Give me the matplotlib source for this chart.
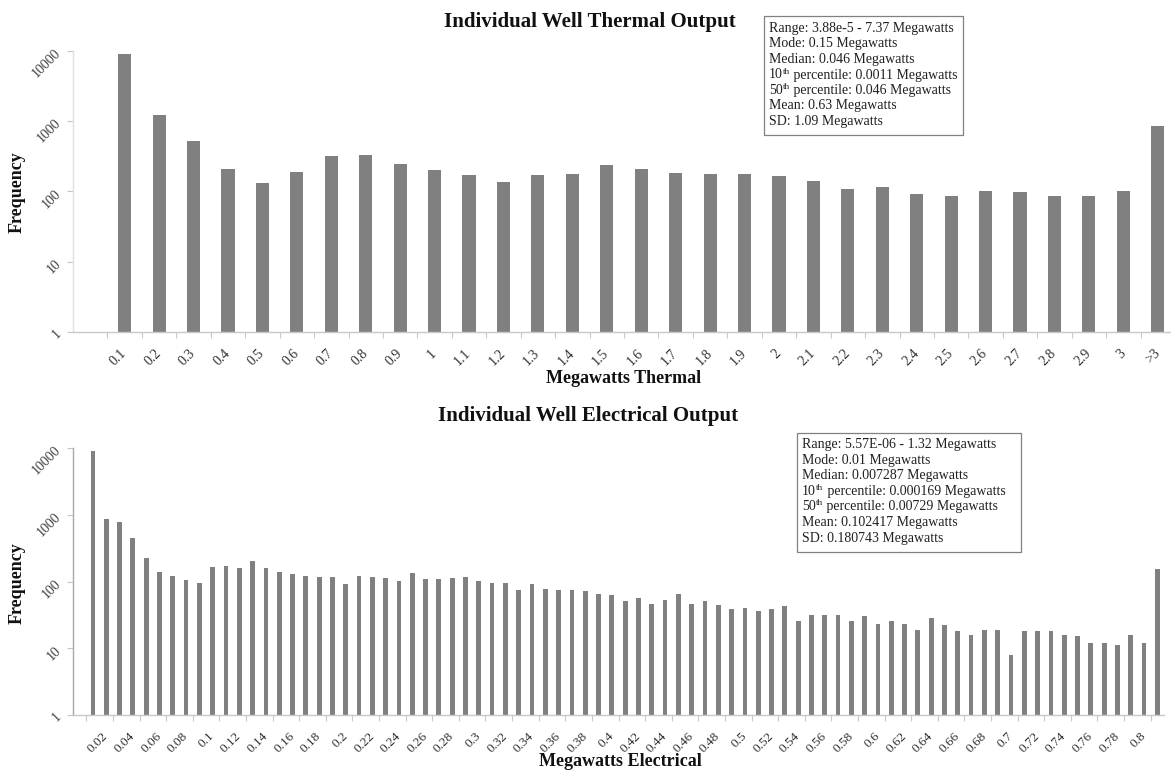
import matplotlib
matplotlib.use("Agg")
import matplotlib.pyplot as plt
from matplotlib.patches import Rectangle
import numpy as np

plt.rcParams['font.family'] = ['Liberation Serif', 'DejaVu Serif']

# ---------------- data ----------------
thermal_labels = ["0.1", "0.2", "0.3", "0.4", "0.5", "0.6", "0.7", "0.8", "0.9", "1",
                  "1.1", "1.2", "1.3", "1.4", "1.5", "1.6", "1.7", "1.8", "1.9", "2",
                  "2.1", "2.2", "2.3", "2.4", "2.5", "2.6", "2.7", "2.8", "2.9", "3", ">3"]
thermal_freq = [9100, 1230, 520, 208, 132, 188, 318, 332, 247, 201,
                172, 136, 172, 180, 237, 208, 186, 178, 178, 165,
                143, 108, 116, 93, 87, 101, 97, 87, 86, 101, 860]

elec_labels = ["0.01", "0.02", "0.03", "0.04", "0.05", "0.06", "0.07", "0.08", "0.09", "0.1",
               "0.11", "0.12", "0.13", "0.14", "0.15", "0.16", "0.17", "0.18", "0.19", "0.2",
               "0.21", "0.22", "0.23", "0.24", "0.25", "0.26", "0.27", "0.28", "0.29", "0.3",
               "0.31", "0.32", "0.33", "0.34", "0.35", "0.36", "0.37", "0.38", "0.39", "0.4",
               "0.41", "0.42", "0.43", "0.44", "0.45", "0.46", "0.47", "0.48", "0.49", "0.5",
               "0.51", "0.52", "0.53", "0.54", "0.55", "0.56", "0.57", "0.58", "0.59", "0.6",
               "0.61", "0.62", "0.63", "0.64", "0.65", "0.66", "0.67", "0.68", "0.69", "0.7",
               "0.71", "0.72", "0.73", "0.74", "0.75", "0.76", "0.77", "0.78", "0.79", "0.8", ">0.8"]
elec_freq = [9120, 876, 789, 448, 222, 137, 120, 107, 95, 166,
             172, 161, 202, 161, 137, 130, 122, 116, 117, 91,
             121, 116, 111, 102, 132, 110, 110, 113, 116, 102,
             94, 94, 75, 91, 78, 74, 74, 71, 64, 63,
             51, 56, 46, 53, 65, 46, 51, 44, 39, 40,
             36, 39, 43, 26, 32, 31, 31, 26, 30, 23,
             26, 23, 19, 28, 22, 18, 16, 19, 19, 8,
             18, 18, 18, 16, 15, 12, 12, 11, 16, 12, 156]

# each stats line: (main text, superscript, rest)
thermal_stats = [("Range: 3.88e-5 - 7.37 Megawatts", "", ""),
                 ("Mode: 0.15 Megawatts", "", ""),
                 ("Median: 0.046 Megawatts", "", ""),
                 ("10", "th", " percentile: 0.0011 Megawatts"),
                 ("50", "th", " percentile: 0.046 Megawatts"),
                 ("Mean: 0.63 Megawatts", "", ""),
                 ("SD: 1.09 Megawatts", "", "")]
elec_stats = [("Range: 5.57E-06 - 1.32 Megawatts", "", ""),
              ("Mode: 0.01 Megawatts", "", ""),
              ("Median: 0.007287 Megawatts", "", ""),
              ("10", "th", " percentile: 0.000169 Megawatts"),
              ("50", "th", " percentile: 0.00729 Megawatts"),
              ("Mean: 0.102417 Megawatts", "", ""),
              ("SD: 0.180743 Megawatts", "", "")]

BAR = '#808080'
AX = '#c8c8c8'

W, H = 1171, 774
fig = plt.figure(figsize=(W / 100, H / 100), dpi=100)


def px(x0, y_top, x1, y_bot):
    return [x0 / W, 1 - y_bot / H, (x1 - x0) / W, (y_bot - y_top) / H]


def style_axes(ax, n, labels, label_step, tick_step, tick_fs, ycol):
    ax.set_yscale('log')
    ax.set_ylim(1, 10000)
    ax.set_xlim(-0.5, n + 0.5)
    for s in ['top', 'right']:
        ax.spines[s].set_visible(False)
    ax.spines['bottom'].set_color(AX)
    ax.spines['left'].set_color(ycol)
    ax.spines['bottom'].set_linewidth(1.0)
    ax.spines['left'].set_linewidth(1.0)
    ax.set_yticks([1, 10, 100, 1000, 10000])
    ax.set_yticklabels(["1", "10", "100", "1000", "10000"], rotation=45,
                       rotation_mode='anchor', ha='right', va='center',
                       fontsize=10, color='#404040')
    ax.yaxis.set_minor_locator(matplotlib.ticker.NullLocator())
    ax.tick_params(axis='y', length=4, color=AX, pad=6)
    # tick marks between categories
    ax.set_xticks(np.arange(0.5, n + 0.5, tick_step))
    ax.set_xticklabels([])
    ax.tick_params(axis='x', which='major', length=4, color=AX)
    pos = np.arange(1, n + 1)
    ax.set_xticks(pos[label_step - 1::label_step], minor=True)
    ax.set_xticklabels(labels[label_step - 1::label_step], minor=True,
                       rotation=45, rotation_mode='anchor', ha='right',
                       va='center', fontsize=tick_fs, color='#303030')
    ax.tick_params(axis='x', which='minor', length=0, pad=14)


def stats_box(x0, y0, x1, y1, tx, ty0, dy, lines):
    fig.patches.append(Rectangle((x0 / W, 1 - y1 / H), (x1 - x0) / W, (y1 - y0) / H,
                                 transform=fig.transFigure, fc='white',
                                 ec='#808080', lw=0.9, zorder=5))
    r = fig.canvas.get_renderer()
    for i, (main, sup, rest) in enumerate(lines):
        ybase = 1 - (ty0 + i * dy) / H
        t1 = fig.text(tx / W, ybase, main, ha='left', va='baseline',
                      fontsize=10, color='#202020', zorder=6)
        if sup:
            bb = t1.get_window_extent(r)
            t2 = fig.text((bb.x1 + 0.5) / W, ybase + 5.0 / H, sup, fontsize=6.5,
                          color='#202020', zorder=6, ha='left', va='baseline')
            bb2 = t2.get_window_extent(r)
            fig.text(bb2.x1 / W, ybase, rest, ha='left', va='baseline',
                     fontsize=10, color='#202020', zorder=6)


def title(x, ybase, s, fs):
    fig.text(x / W, 1 - ybase / H, s, ha='center', va='baseline',
             fontsize=fs, fontweight='bold', color='#111111')


# ---------------- top chart ----------------
ax1 = fig.add_axes(px(73, 51, 1175, 332))
n1 = len(thermal_labels)
ax1.bar(np.arange(1, n1 + 1), thermal_freq, width=0.38, color=BAR, zorder=2)
style_axes(ax1, n1, thermal_labels, 1, 1, 10, '#e0e0e0')
title(590, 27, "Individual Well Thermal Output", 15)
title(624, 383, "Megawatts Thermal", 13)
fig.text(17 / W, 1 - 192 / H, "Frequency", ha='center', va='center',
         rotation=90, fontsize=13, fontweight='bold', color='#111111')
stats_box(764, 16, 963, 135, 769, 32, 15.5, thermal_stats)

# ---------------- bottom chart ----------------
ax2 = fig.add_axes(px(73, 448, 1164, 715))
n2 = len(elec_labels)
ax2.bar(np.arange(1, n2 + 1), elec_freq, width=0.36, color=BAR, zorder=2)
style_axes(ax2, n2, elec_labels, 2, 2, 9.5, '#a8a8a8')
title(588, 421, "Individual Well Electrical Output", 15)
title(620, 766, "Megawatts Electrical", 13)
fig.text(17 / W, 1 - 583 / H, "Frequency", ha='center', va='center',
         rotation=90, fontsize=13, fontweight='bold', color='#111111')
stats_box(797, 433, 1021, 552, 802, 448, 15.6, elec_stats)

fig.savefig("out.png", dpi=100, facecolor='white')
